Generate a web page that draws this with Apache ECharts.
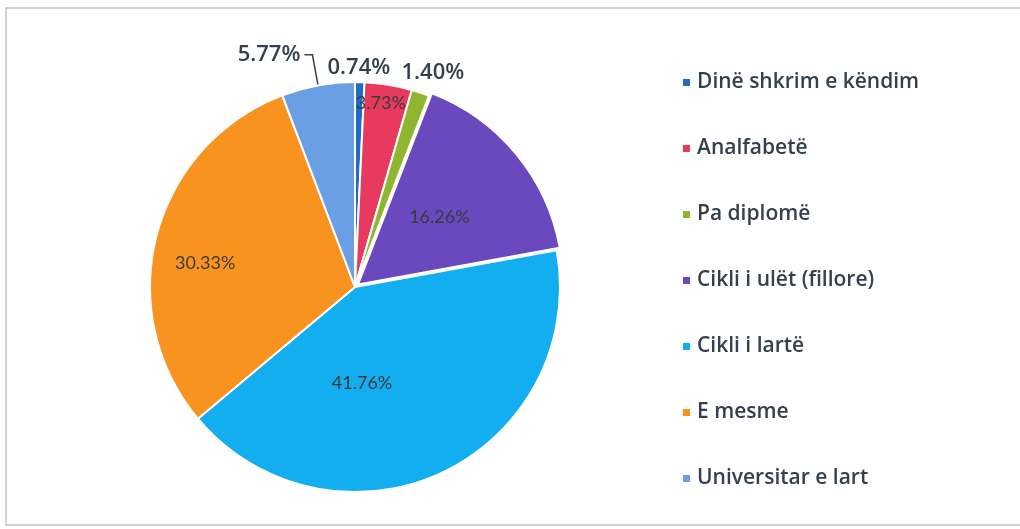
<!DOCTYPE html>
<html>
<head>
<meta charset="utf-8">
<script src="https://cdn.jsdelivr.net/npm/echarts@6/dist/echarts.min.js"></script>
<style>
  html, body { margin: 0; padding: 0; background: #ffffff; }
  #chart { width: 1020px; height: 529px; }
</style>
</head>
<body>
<div id="chart"></div>
<script>
// Education level breakdown (percent of total)
const categories = [
  'Dinë shkrim e këndim',
  'Analfabetë',
  'Pa diplomë',
  'Cikli i ulët (fillore)',
  'Cikli i lartë',
  'E mesme',
  'Universitar e lart'
];
const shares = [0.74, 3.73, 1.40, 16.26, 41.76, 30.33, 5.77];
const sliceColors = ['#1f6cc0', '#e83a5f', '#8fb531', '#6a48bd', '#12aef0', '#f7931e', '#6b9fe3'];

// Pie geometry
const CX = 355, CY = 287, R = 205;

// Where each value label sits: [angle from 12 o'clock in degrees, fraction of radius]
const labelSpots = [
  [1.0, 1.07],
  [8.0, 0.905],
  [20.0, 1.11],
  [42.7, 0.61],
  [175.8, 0.47],
  [279.1, 0.74],
  null
];

const textDark = '#34404f';
const outerLabel = { fontFamily: 'Open Sans', fontSize: 22, fontWeight: 600, color: textDark };

const chart = echarts.init(document.getElementById('chart'), null, { renderer: 'canvas' });

chart.setOption({
  backgroundColor: '#ffffff',
  animation: false,
  graphic: [{
    type: 'rect',
    shape: { x: 6, y: 8, width: 1030, height: 517 },
    style: { fill: 'none', stroke: '#c4c4c4', lineWidth: 1.5 },
    silent: true
  }],
  legend: {
    orient: 'vertical',
    left: 676,
    top: 67,
    icon: 'rect',
    itemWidth: 9,
    itemHeight: 9,
    itemGap: 45,
    selectedMode: false,
    textStyle: {
      fontFamily: 'Open Sans',
      fontSize: 21,
      fontWeight: 600,
      lineHeight: 20,
      color: textDark,
      padding: [0, 0, 0, 1]
    },
    data: categories
  },
  series: [{
    type: 'pie',
    center: [CX, CY],
    radius: R,
    startAngle: 90,
    clockwise: true,
    avoidLabelOverlap: false,
    selectedMode: 'single',
    selectedOffset: 4,
    itemStyle: { borderColor: '#ffffff', borderWidth: 2 },
    label: {
      show: true,
      position: 'inside',
      fontFamily: 'Lato',
      fontSize: 18,
      color: '#3a3a3a',
      formatter: p => p.value.toFixed(2) + '%'
    },
    labelLine: { show: false },
    labelLayout: function (params) {
      const spot = labelSpots[params.dataIndex];
      if (!spot) return {};
      const a = spot[0] * Math.PI / 180;
      return {
        x: CX + Math.sin(a) * spot[1] * R,
        y: CY - Math.cos(a) * spot[1] * R,
        align: 'center',
        verticalAlign: 'middle'
      };
    },
    data: categories.map((name, i) => {
      const item = { name: name, value: shares[i], itemStyle: { color: sliceColors[i] } };
      if (i === 0 || i === 2) {
        item.label = Object.assign({ position: 'outside' }, outerLabel);
      }
      if (i === 3) {
        item.selected = true;
      }
      if (i === 6) {
        item.label = Object.assign({ position: 'outside', distanceToLabelLine: 4 }, outerLabel);
        item.labelLine = { show: true, length: 31, length2: 8, lineStyle: { color: textDark, width: 1.5 } };
      }
      return item;
    })
  }]
});
</script>
</body>
</html>
